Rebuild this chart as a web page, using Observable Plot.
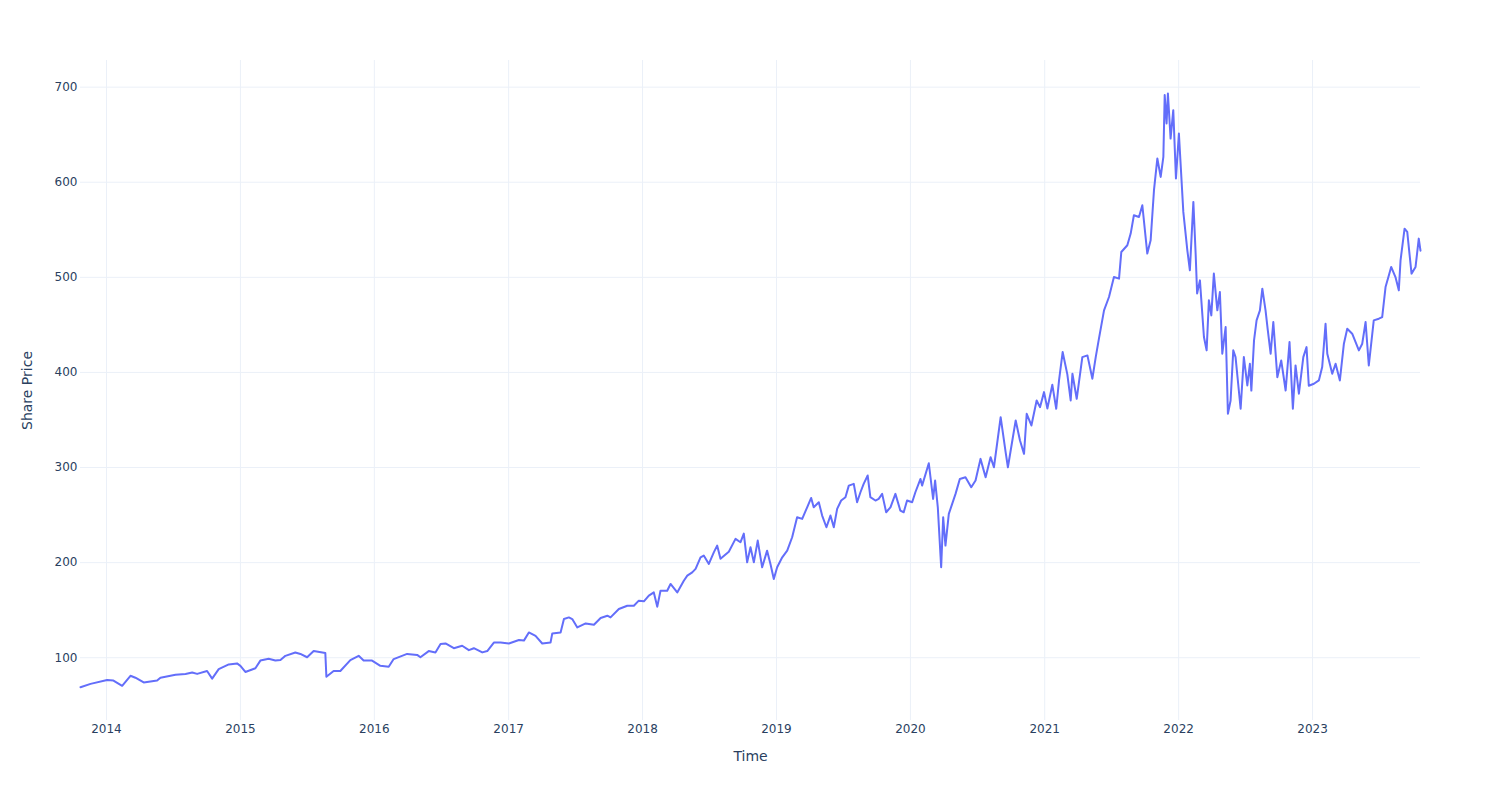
<!DOCTYPE html>
<html>
<head>
<meta charset="utf-8">
<script src="https://cdn.jsdelivr.net/npm/d3@7"></script>
<script src="https://cdn.jsdelivr.net/npm/@observablehq/plot@0.6"></script>
<style>
  html, body { margin: 0; padding: 0; background: #fff; }
  #chart { width: 1500px; height: 800px; }
</style>
</head>
<body>
<div id="chart"></div>
<script>
// Time as decimal years
const years = [
  2013.806, 2013.881, 2014.005, 2014.052, 2014.117, 2014.179, 2014.216, 2014.278, 2014.378, 2014.403,
  2014.515, 2014.590, 2014.640, 2014.677, 2014.751, 2014.789, 2014.838, 2014.913, 2014.975, 2015.000,
  2015.037, 2015.112, 2015.149, 2015.211, 2015.261, 2015.299, 2015.336, 2015.410, 2015.448, 2015.498,
  2015.547, 2015.634, 2015.642, 2015.696, 2015.746, 2015.821, 2015.883, 2015.920, 2015.983, 2016.045,
  2016.107, 2016.144, 2016.244, 2016.319, 2016.343, 2016.405, 2016.455, 2016.493, 2016.530, 2016.592,
  2016.654, 2016.704, 2016.741, 2016.804, 2016.841, 2016.890, 2016.940, 2017.002, 2017.077, 2017.114,
  2017.151, 2017.201, 2017.251, 2017.313, 2017.326, 2017.388, 2017.413, 2017.450, 2017.475, 2017.513,
  2017.575, 2017.637, 2017.687, 2017.737, 2017.761, 2017.823, 2017.886, 2017.935, 2017.972, 2018.010,
  2018.047, 2018.084, 2018.110, 2018.134, 2018.184, 2018.209, 2018.259, 2018.308, 2018.334, 2018.371,
  2018.396, 2018.433, 2018.457, 2018.495, 2018.532, 2018.557, 2018.582, 2018.644, 2018.694, 2018.731,
  2018.756, 2018.781, 2018.806, 2018.831, 2018.860, 2018.893, 2018.930, 2018.955, 2018.980, 2019.005,
  2019.043, 2019.080, 2019.117, 2019.154, 2019.192, 2019.229, 2019.259, 2019.278, 2019.316, 2019.341,
  2019.373, 2019.403, 2019.428, 2019.453, 2019.483, 2019.515, 2019.540, 2019.577, 2019.602, 2019.627,
  2019.651, 2019.681, 2019.701, 2019.739, 2019.763, 2019.789, 2019.819, 2019.851, 2019.888, 2019.925,
  2019.950, 2019.975, 2020.013, 2020.037, 2020.075, 2020.087, 2020.137, 2020.169, 2020.184, 2020.204,
  2020.229, 2020.244, 2020.261, 2020.286, 2020.311, 2020.336, 2020.368, 2020.410, 2020.453, 2020.485,
  2020.522, 2020.560, 2020.597, 2020.622, 2020.672, 2020.709, 2020.726, 2020.759, 2020.784, 2020.816,
  2020.846, 2020.866, 2020.901, 2020.940, 2020.965, 2020.995, 2021.020, 2021.057, 2021.086, 2021.107,
  2021.134, 2021.169, 2021.194, 2021.207, 2021.239, 2021.281, 2021.319, 2021.356, 2021.381, 2021.405,
  2021.443, 2021.480, 2021.517, 2021.555, 2021.572, 2021.617, 2021.642, 2021.666, 2021.704, 2021.729,
  2021.766, 2021.791, 2021.816, 2021.841, 2021.866, 2021.886, 2021.896, 2021.910, 2021.920, 2021.940,
  2021.960, 2021.980, 2022.002, 2022.035, 2022.065, 2022.084, 2022.110, 2022.127, 2022.138, 2022.159,
  2022.189, 2022.209, 2022.226, 2022.244, 2022.263, 2022.289, 2022.308, 2022.326, 2022.351, 2022.368,
  2022.388, 2022.408, 2022.425, 2022.463, 2022.487, 2022.513, 2022.532, 2022.543, 2022.563, 2022.582,
  2022.607, 2022.625, 2022.649, 2022.666, 2022.687, 2022.707, 2022.737, 2022.766, 2022.799, 2022.828,
  2022.853, 2022.873, 2022.898, 2022.931, 2022.955, 2022.972, 2023.010, 2023.047, 2023.072, 2023.097,
  2023.110, 2023.147, 2023.172, 2023.204, 2023.234, 2023.259, 2023.296, 2023.346, 2023.371, 2023.396,
  2023.420, 2023.457, 2023.495, 2023.520, 2023.545, 2023.570, 2023.587, 2023.619, 2023.644, 2023.657,
  2023.687, 2023.707, 2023.739, 2023.769, 2023.793, 2023.806
];

// Share price values
const prices = [
  69.0, 72.5, 76.5, 76.0, 70.5, 81.0, 79.0, 74.0, 76.0, 79.0,
  82.0, 83.0, 84.5, 83.0, 86.0, 78.0, 88.0, 93.0, 94.0, 91.5,
  85.0, 89.0, 97.0, 99.0, 97.0, 97.5, 102.0, 105.5, 104.0, 100.5,
  107.0, 105.0, 80.0, 86.0, 86.0, 97.5, 102.0, 97.0, 97.0, 91.5,
  90.5, 98.6, 104.0, 103.0, 100.5, 107.0, 105.5, 114.4, 115.0, 110.0,
  112.6, 108.0, 110.0, 105.6, 107.0, 116.0, 116.0, 115.0, 118.6, 118.0,
  126.6, 123.0, 115.0, 116.0, 125.6, 126.6, 140.7, 142.4, 140.7, 131.9,
  136.1, 134.7, 141.8, 144.2, 142.4, 151.2, 154.7, 154.7, 160.0, 159.3,
  165.3, 168.7, 153.7, 170.5, 170.5, 177.6, 168.7, 181.0, 186.3, 189.8,
  193.4, 205.6, 207.4, 198.6, 210.8, 217.9, 204.0, 211.5, 225.0, 221.4,
  230.5, 200.3, 216.1, 200.3, 223.2, 195.1, 212.6, 198.6, 182.8, 195.1,
  205.6, 212.6, 226.7, 247.7, 246.0, 258.2, 268.0, 258.2, 263.5, 249.5,
  237.2, 249.5, 237.2, 256.5, 265.3, 268.8, 281.0, 282.8, 263.5, 274.0,
  282.8, 291.6, 268.8, 265.3, 267.0, 272.3, 253.0, 258.2, 272.3, 254.7,
  253.0, 265.3, 263.5, 274.0, 288.0, 281.0, 304.5, 267.0, 286.3, 258.2,
  195.1, 247.7, 217.9, 251.2, 261.8, 272.3, 288.0, 289.8, 279.3, 286.3,
  309.1, 289.8, 310.9, 300.3, 352.9, 316.1, 300.3, 328.4, 349.5, 328.4,
  314.4, 356.5, 344.2, 370.5, 363.5, 379.3, 362.0, 387.0, 361.8, 391.6,
  421.4, 398.0, 370.5, 398.6, 372.3, 416.1, 417.9, 393.4, 416.1, 435.5,
  465.3, 479.3, 500.3, 498.6, 526.6, 533.7, 546.0, 565.3, 563.5, 575.8,
  525.0, 538.9, 591.6, 624.9, 605.6, 626.7, 691.6, 661.8, 693.3, 645.9,
  675.8, 603.9, 651.2, 568.8, 528.4, 507.4, 579.3, 525.0, 483.0, 496.8,
  437.2, 423.2, 475.8, 460.0, 503.9, 465.3, 484.5, 419.7, 447.7, 356.5,
  370.5, 423.2, 416.1, 361.8, 416.1, 386.3, 409.1, 380.9, 433.7, 454.7,
  465.3, 488.1, 465.3, 444.2, 419.7, 453.0, 395.0, 412.6, 381.0, 431.9,
  361.8, 407.4, 377.6, 416.1, 426.6, 386.0, 388.1, 391.6, 405.6, 451.2,
  419.7, 398.6, 409.1, 391.6, 430.2, 446.0, 440.7, 423.2, 430.2, 453.0,
  407.4, 454.7, 456.5, 458.2, 489.8, 502.1, 510.9, 500.3, 486.3, 517.9,
  551.2, 547.7, 503.9, 510.9, 540.7, 528.0
];

const tickYears = [2014, 2015, 2016, 2017, 2018, 2019, 2020, 2021, 2022, 2023];
const priceTicks = [100, 200, 300, 400, 500, 600, 700];

function yearToDate(y) {
  const yr = Math.floor(y);
  const a = Date.UTC(yr, 0, 1), b = Date.UTC(yr + 1, 0, 1);
  return new Date(a + (y - yr) * (b - a));
}

const data = years.map((y, i) => ({date: yearToDate(y), price: prices[i]}));
const xTicks = tickYears.map(y => new Date(Date.UTC(y, 0, 1)));

const ink = "#2a3f5f";
const grid = "#ebf0f8";

const chart = Plot.plot({
  width: 1500,
  height: 800,
  marginLeft: 80,
  marginRight: 80,
  marginTop: 60,
  marginBottom: 80,
  style: {fontFamily: "'DejaVu Sans', sans-serif", fontSize: "12px", color: ink, background: "#fff"},
  x: {type: "utc", domain: [yearToDate(years[0]), yearToDate(years[years.length - 1])]},
  y: {domain: [34, 728]},
  marks: [
    Plot.gridX(xTicks, {stroke: grid, strokeOpacity: 1, strokeWidth: 1}),
    Plot.gridY(priceTicks, {stroke: grid, strokeOpacity: 1, strokeWidth: 1}),
    Plot.axisX(xTicks, {tickSize: 0, tickPadding: 4, tickFormat: d3.utcFormat("%Y"), label: null, fill: ink, fontSize: 12}),
    Plot.axisY(priceTicks, {tickSize: 0, tickPadding: 3, label: null, fill: ink, fontSize: 12}),
    Plot.line(data, {x: "date", y: "price", stroke: "#636efa", strokeWidth: 2, curve: "linear"}),
    Plot.text(["Time"], {frameAnchor: "bottom", dy: 36, fontSize: 14, fill: ink, lineAnchor: "middle"}),
    Plot.text(["Share Price"], {frameAnchor: "left", dx: -53, rotate: -90, fontSize: 14, fill: ink, lineAnchor: "middle", textAnchor: "middle"})
  ]
});

document.getElementById("chart").appendChild(chart);
</script>
</body>
</html>
